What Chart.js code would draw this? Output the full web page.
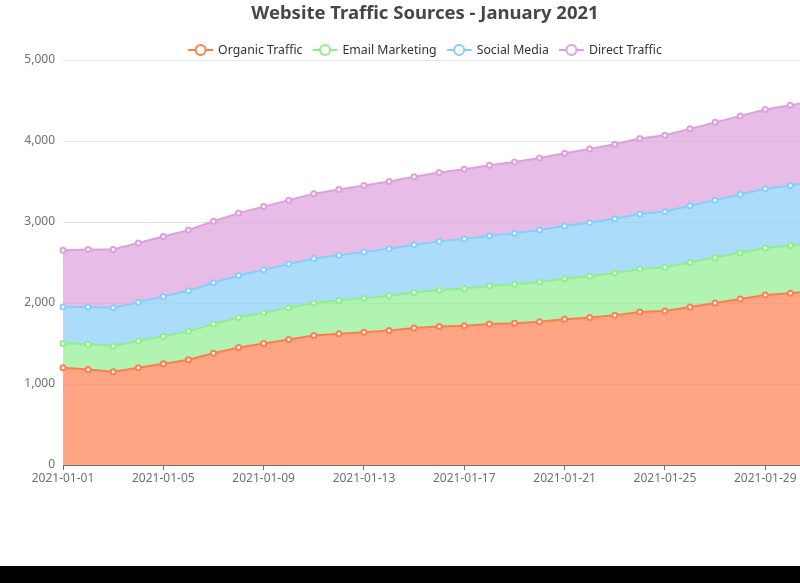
<!DOCTYPE html>
<html>
<head>
<meta charset="utf-8">
<script src="https://cdn.jsdelivr.net/npm/chart.js@4/dist/chart.umd.min.js"></script>
<style>
  html, body { margin: 0; padding: 0; background: #fff; overflow: hidden; width: 800px; height: 583px; }
  #wrap { position: absolute; left: 0; top: 0; width: 850px; height: 566px; }
  #bar { position: absolute; left: 0; top: 566px; width: 800px; height: 17px; background: #000; }
</style>
</head>
<body>
<div id="wrap"><canvas id="c" width="850" height="566"></canvas></div>
<div id="bar"></div>
<script>
const TITLE = 'Website Traffic Sources - January 2021';
const dates = ['2021-01-01','2021-01-02','2021-01-03','2021-01-04','2021-01-05','2021-01-06','2021-01-07','2021-01-08','2021-01-09','2021-01-10','2021-01-11','2021-01-12','2021-01-13','2021-01-14','2021-01-15','2021-01-16','2021-01-17','2021-01-18','2021-01-19','2021-01-20','2021-01-21','2021-01-22','2021-01-23','2021-01-24','2021-01-25','2021-01-26','2021-01-27','2021-01-28','2021-01-29','2021-01-30','2021-01-31'];
const seriesNames = ['Organic Traffic','Email Marketing','Social Media','Direct Traffic'];
const organic = [1200,1180,1150,1200,1250,1300,1380,1450,1500,1550,1600,1620,1640,1660,1690,1710,1720,1740,1750,1770,1800,1820,1850,1890,1900,1950,2000,2050,2100,2120,2150];
const email = [300,310,320,330,340,350,360,370,380,390,400,410,420,430,440,450,460,470,480,490,500,510,520,530,540,550,560,570,580,590,600];
const social = [450,460,470,480,490,500,510,520,530,540,550,560,570,580,590,600,610,620,630,640,650,660,670,680,690,700,710,720,730,740,750];
const direct = [700,710,720,730,740,750,760,770,780,790,800,810,820,830,840,850,860,870,880,890,900,910,920,930,940,950,960,970,980,990,1000];
const yTicks = [0,1000,2000,3000,4000,5000];

const lineColors = ['#FF7F50','#90EE90','#87CEFA','#DDA0DD'];
const fillColors = ['rgba(255,127,80,0.7)','rgba(144,238,144,0.7)','rgba(135,206,250,0.7)','rgba(221,160,221,0.7)'];
const FONT = '"Noto Sans", "Liberation Sans", sans-serif';

const values = [organic, email, social, direct];
const datasets = values.map((v, i) => ({
  label: seriesNames[i],
  data: v,
  borderColor: lineColors[i],
  backgroundColor: fillColors[i],
  fill: i === 0 ? 'origin' : '-1',
  borderWidth: 2,
  pointRadius: 2.5,
  pointBorderWidth: 2,
  pointBackgroundColor: '#fff',
  pointBorderColor: lineColors[i],
  tension: 0
}));

const headerPlugin = {
  id: 'header',
  afterDraw(chart) {
    const ctx = chart.ctx;
    const cx = chart.width / 2;
    ctx.save();
    ctx.font = 'bold 18.5px ' + FONT;
    ctx.fillStyle = '#464646';
    ctx.textAlign = 'center';
    ctx.textBaseline = 'middle';
    ctx.fillText(TITLE, cx, 13.5);
    // legend
    ctx.font = '12.3px ' + FONT;
    const iconW = 25, gapText = 5, gapItem = 10;
    const widths = seriesNames.map(n => iconW + gapText + ctx.measureText(n).width);
    const total = widths.reduce((a, b) => a + b, 0) + gapItem * (seriesNames.length - 1);
    let x = cx - total / 2;
    const y = 50;
    seriesNames.forEach((n, i) => {
      ctx.strokeStyle = lineColors[i];
      ctx.lineWidth = 2;
      ctx.beginPath();
      ctx.moveTo(x, y); ctx.lineTo(x + iconW, y);
      ctx.stroke();
      ctx.beginPath();
      ctx.arc(x + iconW / 2, y, 5, 0, Math.PI * 2);
      ctx.fillStyle = '#fff';
      ctx.fill();
      ctx.stroke();
      ctx.fillStyle = '#333';
      ctx.textAlign = 'left';
      ctx.fillText(n, x + iconW + gapText, y + 0.5);
      x += widths[i] + gapItem;
    });
    ctx.restore();
  }
};

new Chart(document.getElementById('c'), {
  type: 'line',
  data: { labels: dates, datasets },
  options: {
    responsive: false,
    animation: false,
    layout: { padding: { top: 60, left: 0, right: 0, bottom: 71 } },
    plugins: {
      legend: { display: false },
      title: { display: false },
      tooltip: { enabled: false }
    },
    scales: {
      x: {
        type: 'category',
        offset: false,
        afterFit: s => { s.height = 30; s.paddingRight = 34.6; },
        border: { display: true, color: '#6e7079', width: 1 },
        grid: {
          drawOnChartArea: false,
          drawTicks: true,
          tickLength: 5,
          color: c => (c.index % 4 === 0 ? '#6e7079' : 'rgba(0,0,0,0)')
        },
        ticks: {
          autoSkip: false,
          maxRotation: 0,
          minRotation: 0,
          padding: 1,
          color: '#6e7079',
          font: { family: FONT, size: 12 },
          callback: function (v, i) { return i % 4 === 0 ? this.getLabelForValue(v) : ''; }
        }
      },
      y: {
        stacked: true,
        min: yTicks[0],
        max: yTicks[yTicks.length - 1],
        afterFit: s => { s.width = 63; },
        afterBuildTicks: s => { s.ticks = yTicks.map(v => ({ value: v })); },
        border: { display: false },
        grid: { color: '#e0e6f1', lineWidth: 1, drawTicks: false },
        ticks: {
          padding: 8,
          color: '#6e7079',
          font: { family: FONT, size: 12 },
          callback: v => v.toLocaleString('en-US')
        }
      }
    }
  },
  plugins: [headerPlugin]
});
</script>
</body>
</html>
